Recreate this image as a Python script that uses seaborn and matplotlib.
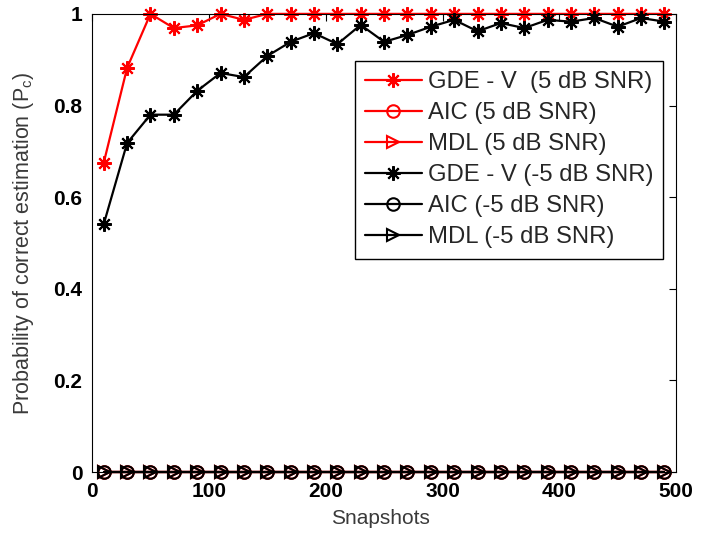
import matplotlib
matplotlib.use("Agg")
import matplotlib.pyplot as plt
import seaborn as sns
import numpy as np
import pandas as pd

snapshots = [10, 30, 50, 70, 90, 110, 130, 150, 170, 190, 210, 230, 250,
             270, 290, 310, 330, 350, 370, 390, 410, 430, 450, 470, 490]
gde_5db = [0.675, 0.882, 1.0, 0.969, 0.975, 1.0, 0.987, 1.0, 1.0, 1.0, 1.0, 1.0, 1.0,
           1.0, 1.0, 1.0, 1.0, 1.0, 1.0, 1.0, 1.0, 1.0, 1.0, 1.0, 1.0]
aic_5db = [0.0] * 25
mdl_5db = [0.0] * 25
gde_m5db = [0.541, 0.718, 0.78, 0.78, 0.832, 0.871, 0.862, 0.908, 0.939, 0.958, 0.934, 0.976, 0.939,
            0.954, 0.972, 0.987, 0.962, 0.98, 0.969, 0.987, 0.983, 0.991, 0.972, 0.991, 0.983]
aic_m5db = [0.0] * 25
mdl_m5db = [0.0] * 25

labels = ["GDE - V  (5 dB SNR)", "AIC (5 dB SNR)", "MDL (5 dB SNR)",
          "GDE - V (-5 dB SNR)", "AIC (-5 dB SNR)", "MDL (-5 dB SNR)"]
series = [gde_5db, aic_5db, mdl_5db, gde_m5db, aic_m5db, mdl_m5db]
colors = ["#ff0000", "#ff0000", "#ff0000", "#000000", "#000000", "#000000"]
ASTER = (8, 2, 0)
markers = [ASTER, "o", ">", ASTER, "o", ">"]

sns.set_style("white")
plt.rcParams["font.family"] = ["Liberation Sans", "DejaVu Sans"]

fig = plt.figure(figsize=(7.08, 5.34), dpi=100)
ax = fig.add_axes([0.130, 0.116, 0.825, 0.858])

for lab, ys, c, m in zip(labels, series, colors, markers):
    df = pd.DataFrame({"x": snapshots, "y": ys})
    filled = m == ASTER
    sns.lineplot(data=df, x="x", y="y", ax=ax, color=c, linewidth=1.6,
                 marker=m, markersize=10.5 if filled else 9,
                 markerfacecolor="none" if not filled else c,
                 markeredgecolor=c, markeredgewidth=1.5, label=lab, clip_on=False)

ax.set_xlim(0, 500)
ax.set_ylim(0, 1)
ax.set_xticks([0, 100, 200, 300, 400, 500])
ax.set_yticks([0, 0.2, 0.4, 0.6, 0.8, 1.0])
ax.set_yticklabels(["0", "0.2", "0.4", "0.6", "0.8", "1"])
ax.tick_params(direction="in", length=5, width=0.8, top=True, right=True,
               labelsize=15, colors="black", pad=7)
for lab in ax.get_xticklabels() + ax.get_yticklabels():
    lab.set_fontweight("bold")
for s in ax.spines.values():
    s.set_color("black")
    s.set_linewidth(0.8)
    s.set_visible(True)

ax.set_xlabel("Snapshots", fontsize=15, color="#3a3a3a", va="top")
ax.xaxis.set_label_coords(0.493, -0.080)
ax.set_ylabel("Probability of correct estimation (P$_\\mathregular{c}$)", fontsize=15.5,
              color="#3a3a3a")
ax.yaxis.set_label_coords(-0.096, 0.5)

leg = ax.legend(loc="upper right", bbox_to_anchor=(0.978, 0.897), borderaxespad=0,
                fontsize=17.2, frameon=True, fancybox=False, handlelength=2.35,
                labelspacing=0.38, handletextpad=0.26, borderpad=0.42)
leg.get_frame().set_edgecolor("black")
leg.get_frame().set_linewidth(1.0)
leg.get_frame().set_alpha(1)

fig.savefig("out.png", dpi=100)
